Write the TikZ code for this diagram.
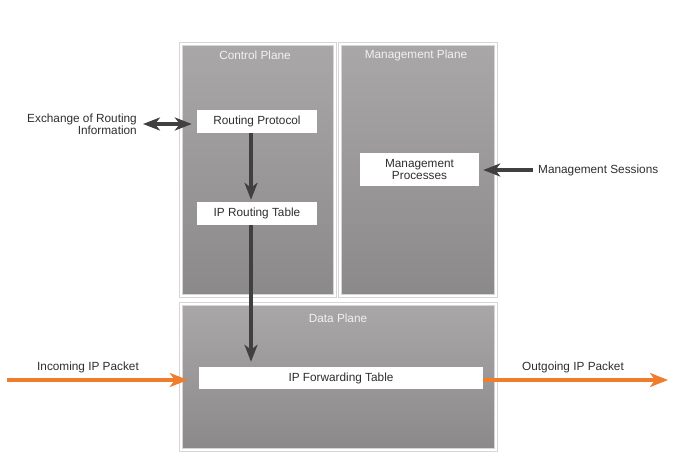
\documentclass[tikz,border=0pt]{standalone}
\usepackage{fontspec}
\setmainfont{Liberation Sans}
\usetikzlibrary{arrows.meta,shadows,positioning}
\definecolor{planetop}{HTML}{A9A7A8}
\definecolor{planebot}{HTML}{8B898A}
\definecolor{arrowgray}{HTML}{404040}
\definecolor{textgray}{HTML}{2E2E2E}
\definecolor{packetorange}{HTML}{F07D2B}
\tikzset
{
    plane/.style = {rectangle, draw=black!16, line width=0.7pt, double=white, double distance=2.2pt,
                    anchor=north west, top color=planetop, bottom color=planebot, inner sep=0pt,
                    drop shadow={shadow xshift=0.8pt, shadow yshift=-1.5pt, fill=black!22}},
    tablebox/.style = {rectangle, fill=white, text=textgray, align=center,
                       inner sep=0pt, font=\fontsize{11.8}{12}\selectfont},
    planetitle/.style = {text=white!95!black, font=\fontsize{11.8}{12}\selectfont, inner sep=0pt},
    sidelabel/.style = {text=textgray, font=\fontsize{11.8}{12}\selectfont, inner sep=0pt}
}

\begin{document}
\begin{tikzpicture}[
        x=1pt, y=-1pt,
        % dark grey connectors inside the router
        darkarrow/.style={draw=arrowgray, line width=3.2pt,
                          -{Stealth[length=17pt, width=13pt, inset=5pt]}},
        % orange packet path
        packetarrow/.style={draw=packetorange, line width=3.2pt,
                            -{Stealth[length=18pt, width=14pt, inset=5pt]}}
      ]
        \useasboundingbox (0,0) rectangle (685,462);

        % the three planes
        \node[plane, minimum width=154pt, minimum height=252pt] (control) at (180.5,43.5) {};
        \node[plane, minimum width=156pt, minimum height=252pt] (mgmt) at (339.5,43.5) {};
        \node[plane, minimum width=315pt, minimum height=146pt] (data) at (180.5,303.5) {};

        \node[planetitle] (controltitle) at (255,55) {Control Plane};
        \node[planetitle] (mgmttitle) at (416,55) {Management Plane};
        \node[planetitle] (datatitle) at (338,318) {Data Plane};

        % boxes
        \node[tablebox, minimum width=120pt, minimum height=23pt] (routproto) at (257,121.5) {Routing Protocol};
        \node[tablebox, minimum width=120pt, minimum height=23pt] (routtable) at (257,213.5) {IP Routing Table};
        \node[tablebox, minimum width=119pt, minimum height=33pt] (mgmtproc) at (419.5,169.5) {Management\\Processes};
        \node[tablebox, minimum width=284pt, minimum height=22pt] (fwdtable) at (341,378) {IP Forwarding Table};

        % outside labels
        \node[sidelabel, align=right, anchor=east] (exch) at (137,124.5) {Exchange of Routing\\Information};
        \node[sidelabel, anchor=west] (sessions) at (538,170) {Management Sessions};
        \node[sidelabel] (incoming) at (88,367) {Incoming IP Packet};
        \node[sidelabel] (outgoing) at (573,367) {Outgoing IP Packet};

        \coordinate (pktin) at (7,380);
        \coordinate (pktout) at (668,380);

        % connectors
        \draw[darkarrow, {Stealth[length=17pt, width=13pt, inset=5pt]}-{Stealth[length=17pt, width=13pt, inset=5pt]}, shorten <=6pt, shorten >=5pt]
            (exch.east |- 0,124) -- (routproto.west |- 0,124);
        \draw[darkarrow, shorten >=2pt] (routproto.south -| 251,0) -- (routtable.north -| 251,0);
        \draw[darkarrow, shorten >=5pt] (routtable.south -| 251,0) -- (fwdtable.north -| 251,0);
        \draw[darkarrow, shorten <=5pt, shorten >=4pt] (sessions.west |- 0,170) -- (mgmtproc.east |- 0,170);
        \draw[packetarrow, shorten >=11pt] (pktin) -- (fwdtable.west |- pktin);
        \draw[packetarrow] (fwdtable.east |- pktout) -- (pktout);
    \end{tikzpicture}
\end{document}
